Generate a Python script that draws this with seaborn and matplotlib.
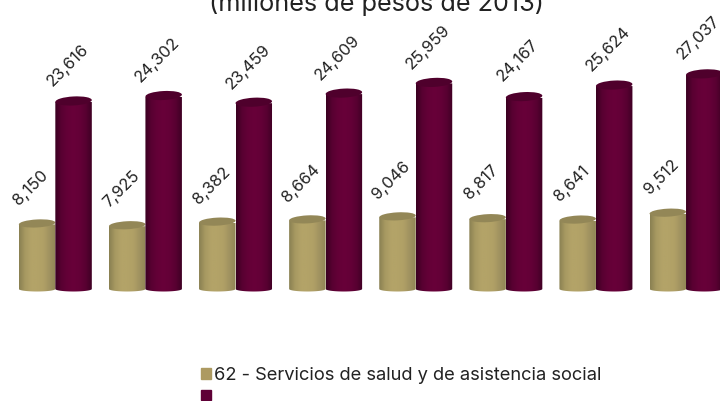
import numpy as np
import pandas as pd
import seaborn as sns
import matplotlib.pyplot as plt
from matplotlib.colors import LinearSegmentedColormap
from matplotlib.patches import Ellipse, Patch, PathPatch
from matplotlib.path import Path
from matplotlib.transforms import IdentityTransform

# valores (millones de pesos de 2013)
grupos = ["1", "2", "3", "4", "5", "6", "7", "8"]
salud = [8150, 7925, 8382, 8664, 9046, 8817, 8641, 9512]
otra = [23616, 24302, 23459, 24609, 25959, 24167, 25624, 27037]

nombre_salud = "62 - Servicios de salud y de asistencia social"
nombre_otra = " "
titulo = "(millones de pesos de 2013)"

TAN = "#ad9a61"
VINO = "#5f0037"
grad_tan = ["#8a8052", "#a89a62", "#b3a368", "#b3a368", "#b0a066", "#a09260", "#918655"]
grad_vino = ["#3a0021", "#590032", "#640037", "#680039", "#640037", "#590032", "#3f0024"]
cap_tan = "#938757"
cap_vino = "#4f002c"
TEXTO = "#222222"

sns.set_theme(style="white")
plt.rcParams["font.family"] = ["Inter", "DejaVu Sans"]

df = pd.DataFrame({
    "grupo": grupos * 2,
    "valor": salud + otra,
    "serie": [nombre_salud] * len(grupos) + [nombre_otra] * len(grupos),
})

fig = plt.figure(figsize=(7.2, 4.01), dpi=100)
ax = fig.add_axes([0, 0, 1, 1])
sns.barplot(data=df, x="grupo", y="valor", hue="serie", palette=[TAN, VINO],
            width=0.81, gap=0, dodge=True, legend=False, ax=ax)
xlim = (-0.614, 7.377)
ylim = (-14141, 36490)
ax.set_xlim(xlim)
ax.set_ylim(ylim)
ax.axis("off")

px_y = (ylim[1] - ylim[0]) / 401
estilos = [(grad_tan, cap_tan, 2, 4.0), (grad_vino, cap_vino, 4, 4.5)]

# sombreado de cilindro sobre cada barra de seaborn
for cont, (grad, cap, z, alto_cap) in zip(ax.containers, estilos):
    cmap = LinearSegmentedColormap.from_list("cil", grad)
    for bar in cont:
        x0, w, h = bar.get_x(), bar.get_width(), bar.get_height()
        bar.set_visible(False)
        xc = x0 + w / 2
        fondo = 2.5 * px_y
        t = np.linspace(np.pi, 2 * np.pi, 30)
        xs = np.r_[x0, xc + w / 2 * np.cos(t), x0 + w, x0]
        ys = np.r_[h, fondo * np.sin(t), h, h]
        forma = PathPatch(Path(np.c_[xs, ys]), transform=ax.transData, fc="none", ec="none")
        ax.add_patch(forma)
        img = ax.imshow(np.linspace(0, 1, 64)[None, :], cmap=cmap, aspect="auto",
                        extent=(x0, x0 + w, -fondo, h), zorder=z, interpolation="bilinear")
        img.set_clip_path(forma)
        cx, cy = ax.transData.transform((xc, h))
        ancho = ax.transData.transform((x0 + w, 0))[0] - ax.transData.transform((x0, 0))[0]
        ax.add_patch(Ellipse((cx, cy + 1), ancho, 2 * alto_cap, angle=3, fc=cap, ec="none",
                             transform=IdentityTransform(), zorder=z + 0.1))
        # etiqueta girada sobre la barra
        ax.annotate(f"{int(h):,}", (xc, h), xytext=(-4.3, 26.5), textcoords="offset points",
                    rotation=45, rotation_mode="anchor", ha="center", va="center",
                    fontsize=11.9, color=TEXTO, zorder=6)

ax.set_xlim(xlim)
ax.set_ylim(ylim)

fig.text(376 / 720, 1 - 4 / 401, titulo, ha="center", va="center", fontsize=18.2, color=TEXTO)

leyenda = fig.legend(handles=[Patch(color=TAN, label=nombre_salud), Patch(color=VINO, label=nombre_otra)],
                     loc="upper left", bbox_to_anchor=(201 / 720, 1 - 367 / 401), frameon=False,
                     fontsize=13.2, borderpad=0, borderaxespad=0, handlelength=0.56, handleheight=0.5,
                     handletextpad=0.17, labelspacing=0.25, labelcolor=TEXTO)

fig.savefig("out.png", dpi=100)
